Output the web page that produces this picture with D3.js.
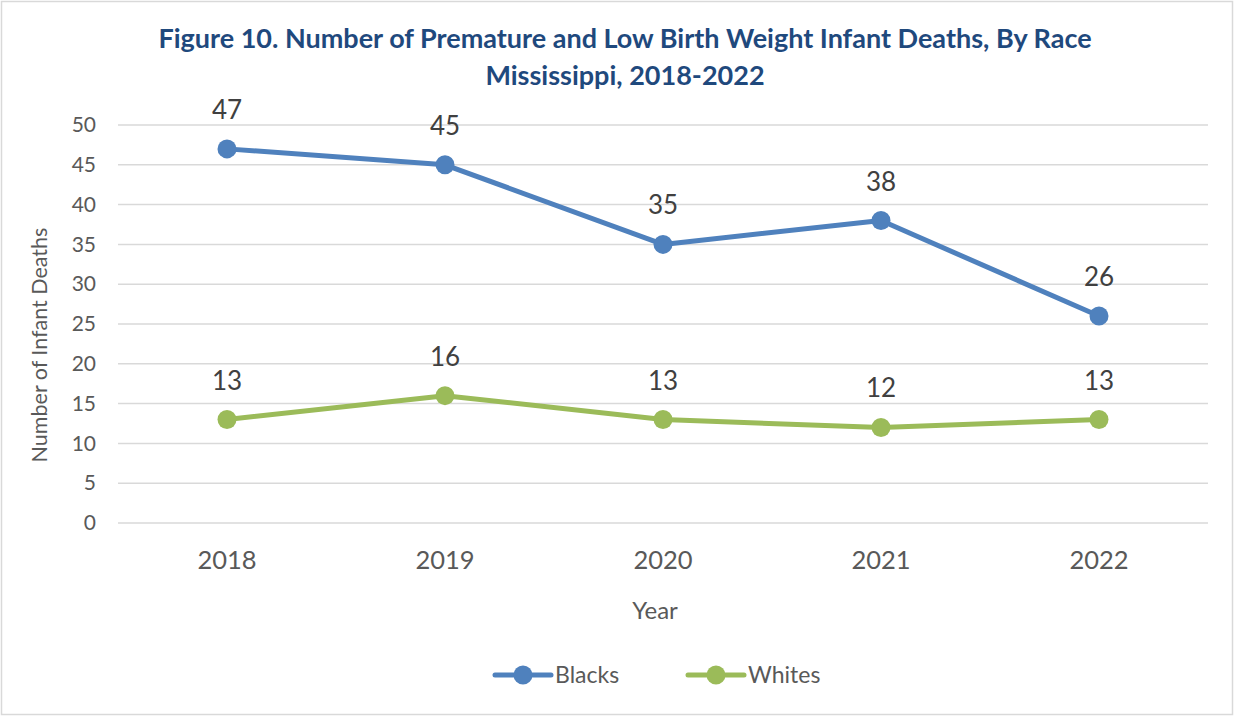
<!DOCTYPE html>
<html>
<head>
<meta charset="utf-8">
<script src="https://cdn.jsdelivr.net/npm/d3@7"></script>
<style>
  body { margin: 0; background: #fff; }
  text { font-family: Lato, "Open Sans", sans-serif; }
</style>
</head>
<body>
<div id="chart"></div>
<script>
"use strict";

const width = 1238;
const height = 717;

// data
const years = ["2018", "2019", "2020", "2021", "2022"];
const blacks = [47, 45, 35, 38, 26];
const whites = [13, 16, 13, 12, 13];
const yTicks = [0, 5, 10, 15, 20, 25, 30, 35, 40, 45, 50];
const seriesNames = ["Blacks", "Whites"];
const seriesColors = ["#4f81bd", "#9bbb59"];

const plot = { left: 118, right: 1208, top: 125, bottom: 523 };

const svg = d3.select("#chart").append("svg")
    .attr("width", width)
    .attr("height", height);

// outer frame
svg.append("rect")
    .attr("x", 1.5).attr("y", 1.5)
    .attr("width", 1231).attr("height", 713)
    .attr("fill", "#fff")
    .attr("stroke", "#d9d9d9")
    .attr("stroke-width", 1.5);

// title
const title = svg.append("text")
    .attr("text-anchor", "middle")
    .attr("fill", "#1f497d")
    .attr("font-weight", "bold")
    .attr("font-size", 27);
title.append("tspan").attr("x", 625).attr("y", 48)
    .text("Figure 10. Number of Premature and Low Birth Weight Infant Deaths, By Race");
title.append("tspan").attr("x", 625).attr("y", 85)
    .text("Mississippi, 2018-2022");

const x = d3.scaleBand()
    .domain(years)
    .range([plot.left, plot.right]);

const y = d3.scaleLinear()
    .domain([0, 50])
    .range([plot.bottom, plot.top]);

// gridlines
svg.append("g")
    .selectAll("line")
    .data(yTicks)
    .join("line")
    .attr("x1", plot.left).attr("x2", plot.right)
    .attr("y1", d => y(d)).attr("y2", d => y(d))
    .attr("stroke", "#d9d9d9")
    .attr("stroke-width", 1.5);

// y axis labels
const yAxis = svg.append("g")
    .attr("transform", `translate(${plot.left},0)`)
    .call(d3.axisLeft(y).tickValues(yTicks).tickSize(0).tickPadding(22));
yAxis.select(".domain").remove();
yAxis.selectAll("text")
    .attr("font-family", "Lato, sans-serif")
    .attr("font-size", 21)
    .attr("fill", "#595959");

// x axis labels
const xAxis = svg.append("g")
    .attr("transform", `translate(0,${plot.bottom})`)
    .call(d3.axisBottom(x).tickSize(0).tickPadding(28));
xAxis.select(".domain").remove();
xAxis.selectAll("text")
    .attr("font-family", "Lato, sans-serif")
    .attr("font-size", 25.5)
    .attr("fill", "#595959");

// axis titles
svg.append("text")
    .attr("transform", `translate(47,${345}) rotate(-90)`)
    .attr("text-anchor", "middle")
    .attr("font-size", 21.5)
    .attr("fill", "#595959")
    .text("Number of Infant Deaths");

svg.append("text")
    .attr("x", (plot.left + plot.right) / 2 - 8)
    .attr("y", 619)
    .attr("text-anchor", "middle")
    .attr("font-size", 24)
    .attr("fill", "#595959")
    .text("Year");

// lines
const cx = d => x(d) + x.bandwidth() / 2;
const line = d3.line()
    .x((d, i) => cx(years[i]))
    .y(d => y(d));

[blacks, whites].forEach((values, s) => {
    const g = svg.append("g");
    g.append("path")
        .datum(values)
        .attr("d", line)
        .attr("fill", "none")
        .attr("stroke", seriesColors[s])
        .attr("stroke-width", 5)
        .attr("stroke-linejoin", "round");
    g.selectAll("circle")
        .data(values)
        .join("circle")
        .attr("cx", (d, i) => cx(years[i]))
        .attr("cy", d => y(d))
        .attr("r", 9.5)
        .attr("fill", seriesColors[s]);
    g.selectAll(".label")
        .data(values)
        .join("text")
        .attr("class", "label")
        .attr("x", (d, i) => cx(years[i]))
        .attr("y", d => y(d) - 30)
        .attr("text-anchor", "middle")
        .attr("font-size", 26)
        .attr("fill", "#404040")
        .text(d => d);
});

// legend
const legendX = [495, 688];
seriesNames.forEach((name, s) => {
    const g = svg.append("g").attr("transform", `translate(${legendX[s]},675)`);
    g.append("line")
        .attr("x1", 0).attr("x2", 56)
        .attr("stroke", seriesColors[s])
        .attr("stroke-width", 5)
        .attr("stroke-linecap", "round");
    g.append("circle")
        .attr("cx", 28).attr("r", 9.5)
        .attr("fill", seriesColors[s]);
    g.append("text")
        .attr("x", 60).attr("y", 8)
        .attr("font-size", 23)
        .attr("fill", "#595959")
        .text(name);
});
</script>
</body>
</html>
